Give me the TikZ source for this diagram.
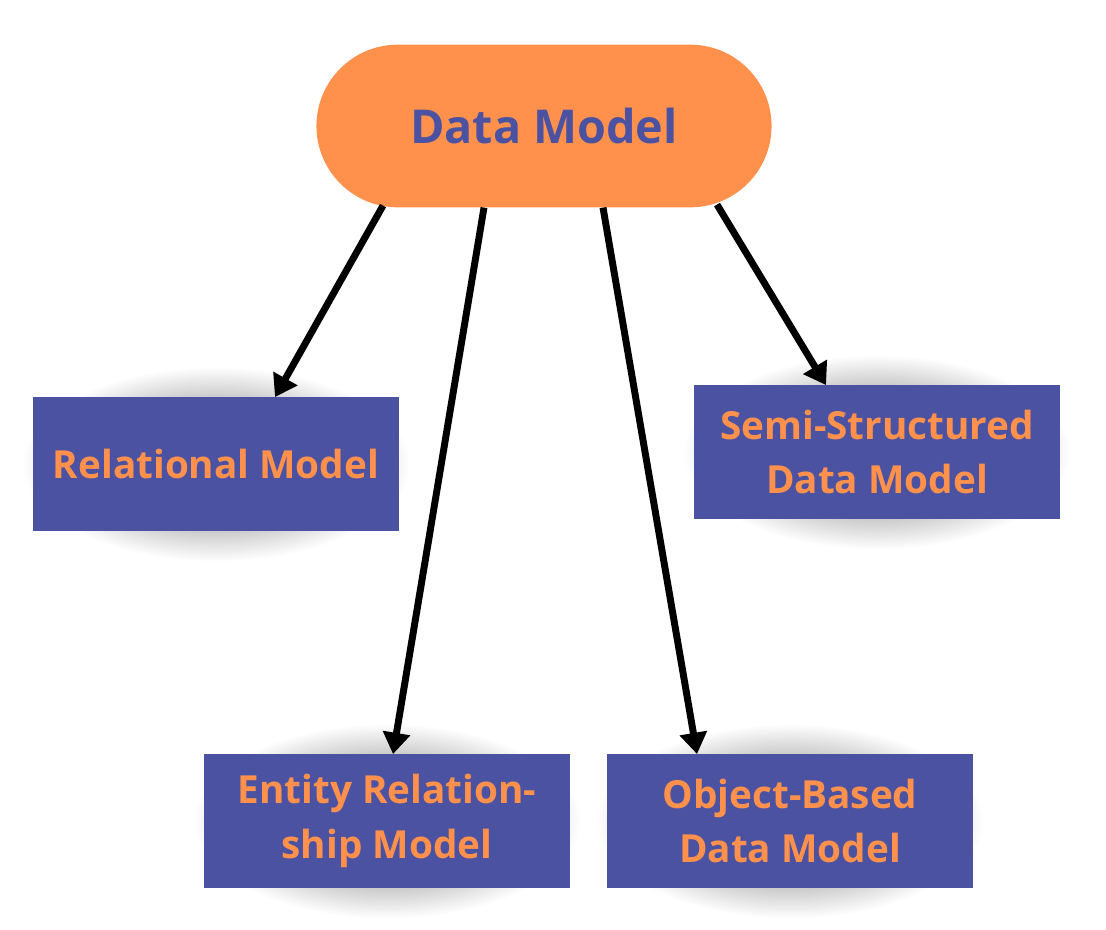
\documentclass[tikz,border=0pt]{standalone}
\usepackage{fontspec}
\setmainfont{Open Sans}
\usetikzlibrary{arrows.meta,positioning,calc,fadings,shapes.misc,backgrounds}
\definecolor{colorDM}{HTML}{FF914D}
\definecolor{colorBox}{HTML}{4B52A2}
\tikzfading[name=softglow, inner color=transparent!0, outer color=transparent!100]
\begin{document}
\begin{tikzpicture}[x=0.75pt,y=-0.75pt,>={Triangle[length=16pt,width=20pt]},
  every node/.append style={align=center},
  root/.style={rounded rectangle, fill=colorDM, text=colorBox, minimum width=348pt, minimum height=122pt, font=\bfseries\fontsize{35}{42}\selectfont},
  model/.style={rectangle, fill=colorBox, text=colorDM, minimum width=274.5pt, minimum height=100pt, inner sep=0pt, font=\bfseries\fontsize{29}{41}\selectfont},
  glow/.style={fill=black!65, path fading=softglow},
  link/.style={->, line width=5.2pt}]
  \useasboundingbox (0,0) rectangle (1106,930);
  \node [root] (dm) at (544,126) {Data Model};
  \node [model] (rel) at (216,464) {Relational Model};
  \node [model] (ss) at (877,452) {Semi-Structured\\Data Model};
  \node [model] (er) at (387,821) {Entity Relation-\\ship Model};
  \node [model] (ob) at (790,821) {Object-Based\\Data Model};
  % soft shadows behind the boxes
  \begin{scope}[on background layer]
    \foreach \b in {rel,ss,er,ob}
      \fill[glow] ($(\b.south west)+(-10,30)$) rectangle ($(\b.north east)+(10,-30)$);
  \end{scope}
  \draw[link] ($(dm.south)+(-161,-2)$) -- ($(rel.north)+(59,0)$);
  \draw[link] ($(dm.south)+(-60,0)$) -- ($(er.north)+(6,0)$);
  \draw[link] ($(dm.south)+(59,0)$) -- ($(ob.north)+(-93,0)$);
  \draw[link] ($(dm.south)+(173,-3)$) -- ($(ss.north)+(-51,0)$);
\end{tikzpicture}
\end{document}
